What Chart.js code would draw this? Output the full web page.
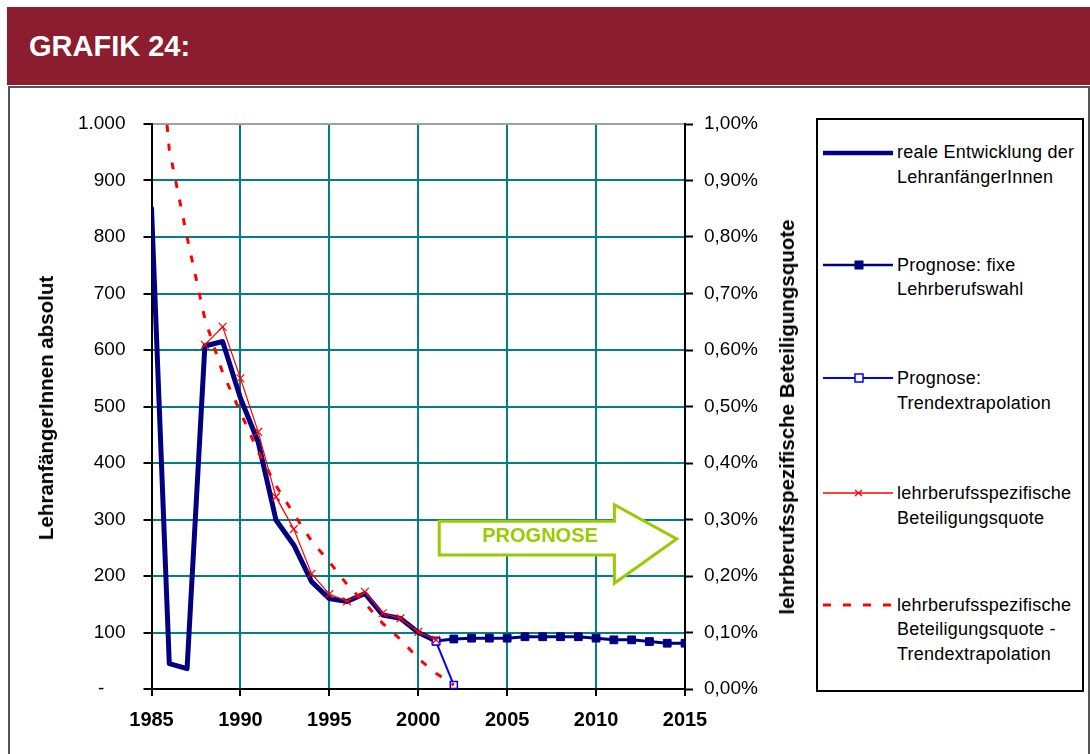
<!DOCTYPE html>
<html lang="de">
<head>
<meta charset="utf-8">
<title>Grafik 24</title>
<script src="https://cdn.jsdelivr.net/npm/chart.js@4.4.1/dist/chart.umd.min.js"></script>
<style>
  html, body { margin:0; padding:0; width:1090px; height:754px; overflow:hidden; background:#fff; font-family:"Liberation Sans", Arial, sans-serif; }
  #hdr { position:absolute; left:7px; top:7px; width:1083px; height:78px; background:#8C1D2F; }
  #hdr span { position:absolute; left:22px; top:25px; font-size:29px; line-height:29px; font-weight:bold; color:#fff; }
  #panel { position:absolute; left:8px; top:86px; width:1078px; height:720px; border:2px solid #555; }
  #chartWrap { position:absolute; left:0; top:90px; width:810px; height:660px; }
  #legendBox { position:absolute; left:816px; top:118px; width:268px; height:574px; border:2px solid #000; box-sizing:border-box; background:#fff; }
  .leg-sym { position:absolute; left:820px; width:76px; height:20px; }
  .leg-txt { position:absolute; left:897px; font-size:18px; line-height:24.5px; color:#000; white-space:nowrap; letter-spacing:0.25px; }
  .axis-title { position:absolute; font-weight:bold; font-size:20.5px; white-space:nowrap; transform:translate(-50%,-50%) rotate(-90deg); color:#000; }
</style>
</head>
<body>
<div id="hdr"><span>GRAFIK 24:</span></div>
<div id="panel"></div>
<div id="chartWrap"><canvas id="chart" width="810" height="660"></canvas></div>
<div id="legendBox"></div>
<div class="axis-title" style="left:46px;top:408px;">LehranfängerInnen absolut</div>
<div class="axis-title" style="left:787px;top:417px;">lehrberufsspezifische Beteiligungsquote</div>
<script>
// ---------------- data ----------------
const seriesNames = [
  ["reale Entwicklung der", "LehranfängerInnen"],
  ["Prognose: fixe", "Lehrberufswahl"],
  ["Prognose:", "Trendextrapolation"],
  ["lehrberufsspezifische", "Beteiligungsquote"],
  ["lehrberufsspezifische", "Beteiligungsquote -", "Trendextrapolation"]
];

const realYears  = [1985,1986,1987,1988,1989,1990,1991,1992,1993,1994,1995,1996,1997,1998,1999,2000,2001];
const realValues = [851, 45, 36, 607, 615, 515, 437, 299, 255, 190, 160, 155, 169, 131, 125, 100, 85];

const fixYears  = [2001,2002,2003,2004,2005,2006,2007,2008,2009,2010,2011,2012,2013,2014,2015];
const fixValues = [85, 88.5, 90, 90, 90, 92.5, 92.5, 92.5, 92.5, 90, 87, 87, 84, 81, 81];

const trendYears  = [2001, 2002];
const trendValues = [84, 7];

// percent values (right axis)
const quoteYears  = [1988,1989,1990,1991,1992,1993,1994,1995,1996,1997,1998,1999,2000,2001];
const quoteValues = [0.609,0.641,0.550,0.455,0.340,0.283,0.204,0.168,0.155,0.172,0.134,0.125,0.101,0.087];

const quoteTrendYears  = [1985,1986,1987,1988,1989,1990,1991,1992,1993,1994,1995,1996,1997,1998,1999,2000,2001,2002];
const quoteTrendValues = [1.30,0.955,0.80,0.655,0.56,0.49,0.42,0.36,0.31,0.262,0.225,0.185,0.152,0.116,0.088,0.054,0.028,0.007];

const xTickYears = [1985,1990,1995,2000,2005,2010,2015];
const arrowLabel = "PROGNOSE";

// ---------------- styling ----------------
const FONT = '"Liberation Sans", Arial, sans-serif';
const NAVY = '#000080', BLUE = '#0000FF', RED = '#FF0000', TEAL = '#008080', GREEN = '#99CC00';

// annotation arrow geometry, in axis units
const arrowGeom = { left: 2001.18, neck: 2011.03, tip: 2014.53,
                    bodyTop: 297, bodyBottom: 237, headTop: 326, headBottom: 187, tipY: 265.5,
                    textX: 2006.85, textY: 270 };

function pts(xs, ys) { return xs.map((x, i) => ({ x: x, y: ys[i] })); }

const arrowPlugin = {
  id: 'prognoseArrow',
  beforeDatasetsDraw(chart) {
    const { ctx } = chart;
    const sx = chart.scales.x, sy = chart.scales.y;
    const X = v => sx.getPixelForValue(v), Y = v => sy.getPixelForValue(v);
    const g = arrowGeom;
    ctx.save();
    ctx.beginPath();
    ctx.moveTo(X(g.left), Y(g.bodyTop));
    ctx.lineTo(X(g.neck), Y(g.bodyTop));
    ctx.lineTo(X(g.neck), Y(g.headTop));
    ctx.lineTo(X(g.tip), Y(g.tipY));
    ctx.lineTo(X(g.neck), Y(g.headBottom));
    ctx.lineTo(X(g.neck), Y(g.bodyBottom));
    ctx.lineTo(X(g.left), Y(g.bodyBottom));
    ctx.closePath();
    ctx.fillStyle = '#fff';
    ctx.fill();
    ctx.lineWidth = 3;
    ctx.lineJoin = 'miter';
    ctx.strokeStyle = GREEN;
    ctx.stroke();
    ctx.fillStyle = GREEN;
    ctx.font = 'bold 20px ' + FONT;
    ctx.textAlign = 'center';
    ctx.textBaseline = 'middle';
    ctx.fillText(arrowLabel, X(g.textX), Y(g.textY));
    ctx.restore();
  }
};

const tickFont = { family: FONT, size: 19, lineHeight: 1.2 };

const chart = new Chart(document.getElementById('chart'), {
  type: 'line',
  data: {
    datasets: [
      { label: seriesNames[0].join(' '), data: pts(realYears, realValues), yAxisID: 'y',
        borderColor: NAVY, borderWidth: 5, pointRadius: 0, borderJoinStyle: 'round', borderCapStyle: 'round', order: 5 },
      { label: seriesNames[1].join(' '), data: pts(fixYears, fixValues), yAxisID: 'y',
        borderColor: NAVY, borderWidth: 3, pointStyle: 'rect', pointRadius: 5.5, pointBorderWidth: 1,
        pointBackgroundColor: NAVY, pointBorderColor: NAVY, order: 4 },
      { label: seriesNames[2].join(' '), data: pts(trendYears, trendValues), yAxisID: 'y',
        borderColor: BLUE, borderWidth: 2, pointStyle: 'rect', pointRadius: 5, pointBorderWidth: 1.5,
        pointBackgroundColor: '#fff', pointBorderColor: BLUE, order: 3 },
      { label: seriesNames[3].join(' '), data: pts(quoteYears, quoteValues), yAxisID: 'y1',
        borderColor: RED, borderWidth: 1.2, pointStyle: 'crossRot', pointRadius: 5.5, pointBorderWidth: 1.2,
        pointBorderColor: RED, pointBackgroundColor: RED, order: 1 },
      { label: seriesNames[4].join(' '), data: pts(quoteTrendYears, quoteTrendValues), yAxisID: 'y1',
        borderColor: RED, borderWidth: 3, borderDash: [7, 12], pointRadius: 0, order: 2 }
    ]
  },
  options: {
    responsive: false,
    animation: false,
    devicePixelRatio: 1,
    layout: { padding: { top: 34, left: 0, right: 0, bottom: 0 } },
    plugins: { legend: { display: false }, tooltip: { enabled: false } },
    scales: {
      x: {
        type: 'linear', position: 'bottom', min: 1985, max: 2015,
        afterBuildTicks: s => { s.ticks = xTickYears.map(v => ({ value: v })); },
        ticks: { font: { family: FONT, size: 20, weight: 'bold', lineHeight: 1.2 }, color: '#000', padding: 12,
                 maxRotation: 0, autoSkip: false, callback: v => String(v) },
        grid: { color: c => (c.tick && (c.tick.value === 1985 || c.tick.value === 2015)) ? 'rgba(0,0,0,0)' : TEAL,
                lineWidth: 2, tickColor: '#000', tickLength: 7, tickWidth: 2 },
        border: { color: '#000', width: 2 },
        afterFit: s => { s.height = 61; }
      },
      y: {
        position: 'left', min: 0, max: 1000,
        ticks: { stepSize: 100, font: tickFont, color: '#000', padding: 18,
                 callback: v => v === 0 ? '-    ' : (v === 1000 ? '1.000' : String(v)) },
        grid: { color: c => (c.tick && c.tick.value === 1000) ? '#A0A0A0' : TEAL,
                lineWidth: 2, tickColor: '#000', tickLength: 8, tickWidth: 2 },
        border: { color: '#000', width: 2 },
        afterFit: s => { s.width = 151.5; }
      },
      y1: {
        position: 'right', min: 0, max: 1.0,
        ticks: { stepSize: 0.1, font: tickFont, color: '#000', padding: 11,
                 callback: v => v.toFixed(2).replace('.', ',') + '%' },
        grid: { drawOnChartArea: false, tickColor: '#000', tickLength: 8, tickWidth: 2 },
        border: { color: '#000', width: 2 },
        afterFit: s => { s.width = 125; }
      }
    }
  },
  plugins: [arrowPlugin]
});

// ---------------- HTML legend ----------------
const legendLayout = { firstLineY: [152.7, 265, 378.3, 493.3, 605], lineH: 24.5 };
const symbols = [
  `<line x1="3" y1="10" x2="73" y2="10" stroke="${NAVY}" stroke-width="4.5"/>`,
  `<line x1="3" y1="10" x2="73" y2="10" stroke="${NAVY}" stroke-width="2.5"/><rect x="34.5" y="5.5" width="9" height="9" fill="${NAVY}"/>`,
  `<line x1="3" y1="10" x2="73" y2="10" stroke="${BLUE}" stroke-width="2"/><rect x="35" y="6" width="8" height="8" fill="#fff" stroke="${BLUE}" stroke-width="1.5"/>`,
  `<line x1="3" y1="10" x2="73" y2="10" stroke="${RED}" stroke-width="1.3"/><path d="M35 7 L42 13 M42 7 L35 13" stroke="${RED}" stroke-width="1.3"/>`,
  `<line x1="3" y1="10" x2="73" y2="10" stroke="${RED}" stroke-width="3" stroke-dasharray="8 12"/>`
];
seriesNames.forEach((lines, i) => {
  const cy = legendLayout.firstLineY[i];
  const sym = document.createElement('div');
  sym.className = 'leg-sym';
  sym.style.top = (cy - 10) + 'px';
  sym.innerHTML = `<svg width="76" height="20" xmlns="http://www.w3.org/2000/svg">${symbols[i]}</svg>`;
  document.body.appendChild(sym);
  const txt = document.createElement('div');
  txt.className = 'leg-txt';
  txt.style.top = (cy - legendLayout.lineH / 2) + 'px';
  txt.innerHTML = lines.map(l => l.replace(/&/g, '&amp;')).join('<br>');
  document.body.appendChild(txt);
});
</script>
</body>
</html>
